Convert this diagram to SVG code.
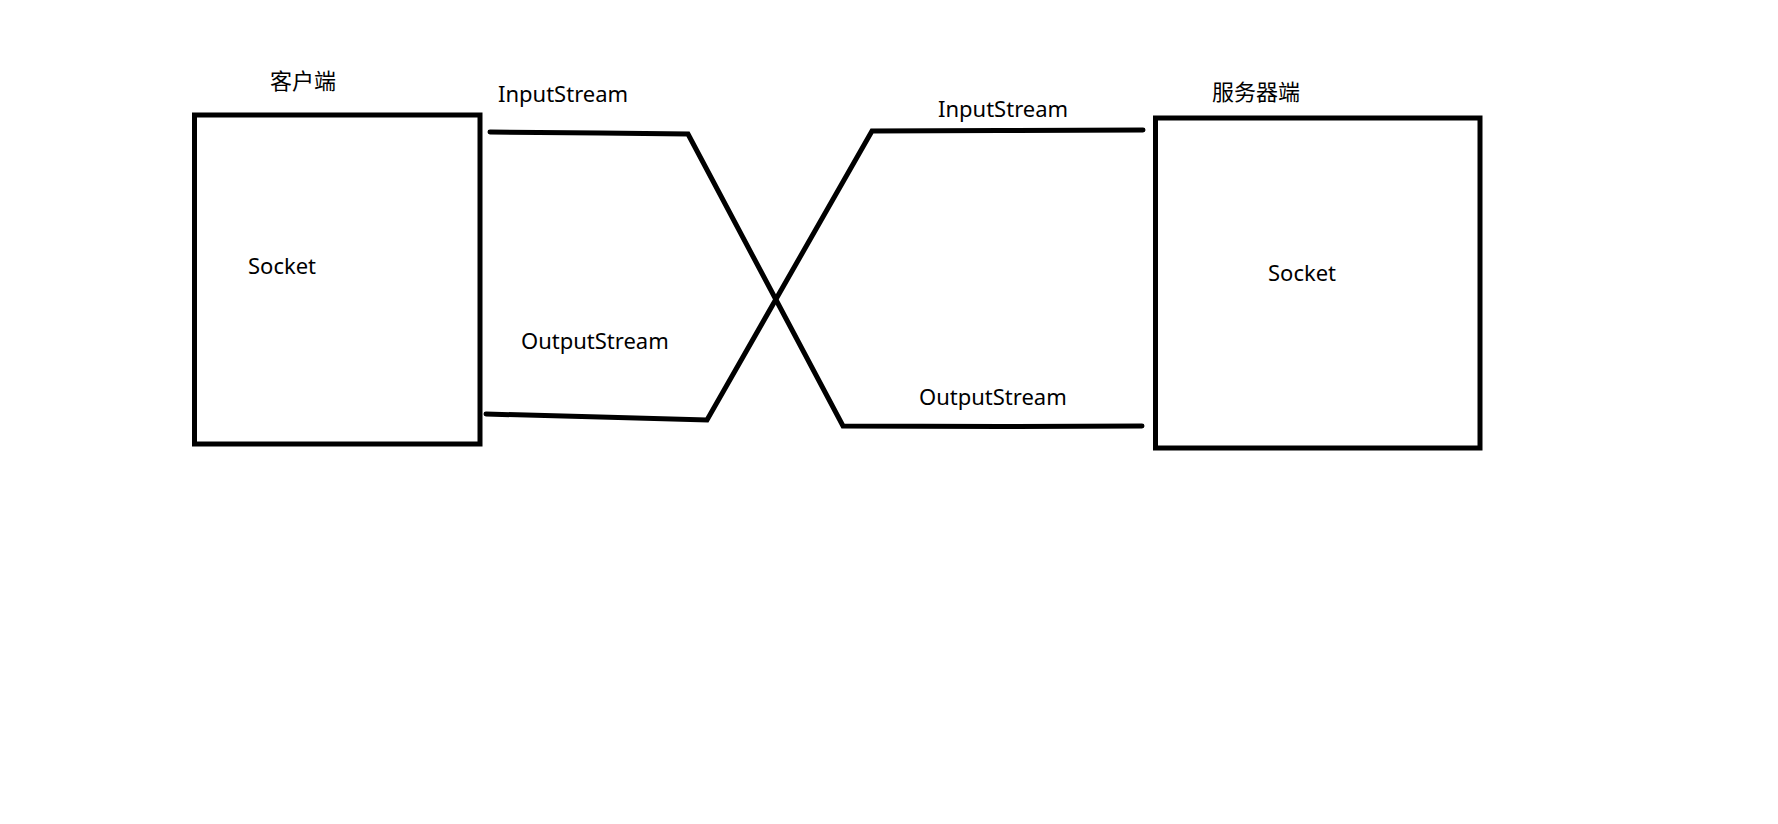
<svg xmlns="http://www.w3.org/2000/svg" width="1778" height="824" viewBox="0 0 1778 824">
<style>
.box{fill:none;stroke:#000;stroke-width:5}
.wire{fill:none;stroke:#000;stroke-width:5;stroke-linecap:round;stroke-linejoin:miter}
.t{font-family:"Noto Sans","Liberation Sans",sans-serif;font-size:22px;fill:#000}
.c{font-family:"Noto Sans CJK SC","Noto Sans",sans-serif;font-size:22px;fill:#000}
</style>
<rect width="1778" height="824" fill="#fff"/>
<g id="client">
<rect class="box" x="194.5" y="115" width="285.5" height="329"/>
<text class="c" x="270" y="89">客户端</text>
<text class="t" x="248" y="274">Socket</text>
</g>
<g id="server">
<rect class="box" x="1155.5" y="118" width="324.5" height="330"/>
<text class="c" x="1212" y="100">服务器端</text>
<text class="t" x="1268" y="280.5">Socket</text>
</g>
<g id="connectors">
<path class="wire" d="M490,132 L600,133 L688,134 L843,426 L1000,426.5 L1142,426"/>
<path class="wire" d="M486,414 L600,417 L707,420 L872,131 L1000,130.5 L1143,130"/>
</g>
<g id="labels">
<text class="t" x="498" y="102">InputStream</text>
<text class="t" x="938" y="117">InputStream</text>
<text class="t" x="521" y="349">OutputStream</text>
<text class="t" x="919" y="405">OutputStream</text>
</g>
</svg>
